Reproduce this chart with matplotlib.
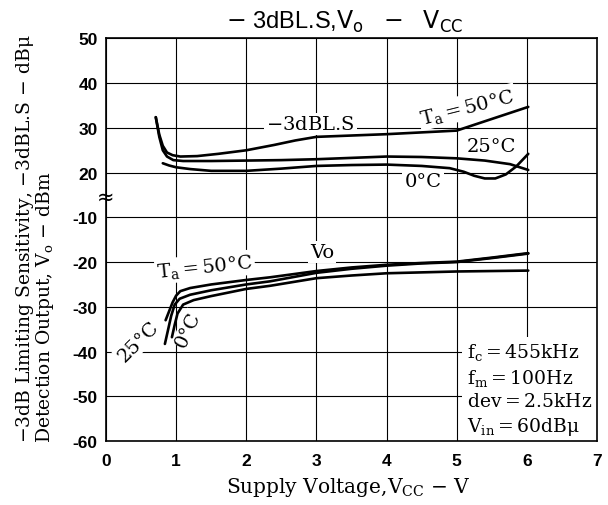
import numpy as np
import matplotlib
matplotlib.use('Agg')
matplotlib.rcParams['mathtext.fontset'] = 'dejavuserif'
import matplotlib.pyplot as plt

# -3dBL.S (dBu) vs Vcc
vcc_ls_50 = [0.71, 0.76, 0.81, 0.87, 0.95, 1.06, 1.3, 1.6, 2.0, 2.4, 2.7, 3.0, 3.5, 4.0, 4.5, 5.0, 5.5, 6.02]
ls_50 = [32.4, 28.5, 26.0, 24.5, 23.9, 23.6, 23.7, 24.2, 25.0, 26.2, 27.2, 28.0, 28.3, 28.6, 29.0, 29.4, 32.0, 34.7]
vcc_ls_25 = [0.71, 0.76, 0.81, 0.87, 0.96, 1.1, 1.5, 2.0, 2.5, 3.0, 3.5, 4.0, 4.5, 5.0, 5.4, 5.76, 6.02]
ls_25 = [32.4, 28.0, 25.0, 23.6, 22.8, 22.6, 22.6, 22.7, 22.8, 23.0, 23.3, 23.6, 23.5, 23.2, 22.7, 21.9, 20.6]
vcc_ls_0 = [0.81, 0.9, 1.0, 1.2, 1.5, 2.0, 2.5, 3.0, 3.5, 4.0, 4.5, 4.9, 5.1, 5.25, 5.4, 5.55, 5.7, 5.85, 6.02]
ls_0 = [22.1, 21.6, 21.2, 20.8, 20.4, 20.4, 20.9, 21.5, 21.7, 21.8, 21.5, 21.0, 20.2, 19.3, 18.7, 18.7, 19.6, 21.4, 24.2]

# Vo (dBm) vs Vcc
vcc_vo_50 = [0.85, 0.9, 0.95, 1.0, 1.06, 1.2, 1.5, 2.0, 2.34, 3.0, 3.5, 4.0, 4.5, 5.0, 5.5, 6.02]
vo_50 = [-33.0, -31.0, -29.0, -27.5, -26.5, -25.8, -25.0, -24.0, -23.4, -22.0, -21.2, -20.6, -20.2, -19.9, -19.0, -18.0]
vcc_vo_25 = [0.84, 0.88, 0.93, 0.98, 1.05, 1.2, 1.5, 2.0, 2.34, 3.0, 3.5, 4.0, 4.5, 5.0, 5.5, 6.02]
vo_25 = [-38.3, -35.5, -32.0, -29.5, -28.2, -27.3, -26.3, -25.0, -24.3, -22.4, -21.5, -20.8, -20.3, -20.0, -19.1, -18.1]
vcc_vo_0 = [0.94, 0.98, 1.02, 1.1, 1.25, 1.5, 2.0, 2.34, 3.0, 3.5, 4.0, 4.5, 5.0, 5.5, 6.02]
vo_0 = [-36.8, -34.0, -31.5, -29.5, -28.5, -27.6, -26.0, -25.3, -23.6, -23.0, -22.5, -22.3, -22.1, -22.0, -21.9]

xticks = [0, 1, 2, 3, 4, 5, 6, 7]
yticks = [50, 40, 30, 20, -10, -20, -30, -40, -50, -60]


# broken y axis: dBu part above, dBm part below, squeezed gap between 12 and -10
def fwd(v):
    v = np.asarray(v, dtype=float)
    return np.where(v >= 12, v, np.where(v <= -10, v + 20, 10 + (v + 10) * 2 / 22))


def inv(p):
    p = np.asarray(p, dtype=float)
    return np.where(p >= 12, p, np.where(p <= 10, p - 20, (p - 10) * 11 - 10))


serif = 'DejaVu Serif'
sans = 'Liberation Sans'

fig = plt.figure(figsize=(6.08, 5.06), dpi=100)
ax = fig.add_axes([0.1743, 0.1265, 0.8076, 0.7955])
ax.set_yscale('function', functions=(fwd, inv))
ax.set_xlim(0, 7)
ax.set_ylim(-60, 50)
ax.set_xticks(xticks)
ax.set_yticks(yticks)
ax.set_yticklabels([str(t) for t in yticks])
ax.minorticks_off()
for lab in ax.get_xticklabels() + ax.get_yticklabels():
    lab.set_fontfamily(sans)
    lab.set_fontweight('bold')
    lab.set_fontsize(12.5)
ax.tick_params(axis='both', length=0)
ax.tick_params(axis='y', pad=6)
ax.tick_params(axis='x', pad=9)
ax.grid(True, color='black', lw=0.8)
for s in ax.spines.values():
    s.set_linewidth(1.2)

lw = 1.9
for x, y in [(vcc_ls_50, ls_50), (vcc_ls_25, ls_25), (vcc_ls_0, ls_0),
             (vcc_vo_50, vo_50), (vcc_vo_25, vo_25), (vcc_vo_0, vo_0)]:
    ax.plot(x, y, color='black', lw=lw, solid_capstyle='round', zorder=3)

fs = 14
wbox = dict(fc='white', ec='none', pad=1.5)
ax.text(2.91, 30.9, '$-$3dBL.S', family=serif, fontsize=fs, ha='center', va='center', bbox=wbox, zorder=2)
ax.text(5.15, 34.7, 'T$_\\mathrm{a}$$=$50°C', family=serif, fontsize=fs, ha='center', va='center',
        rotation=14, bbox=wbox, zorder=2)
ax.text(5.5, 26.0, '25°C', family=serif, fontsize=fs, ha='center', va='center', zorder=2)
ax.text(4.52, 18.1, '0°C', family=serif, fontsize=fs, ha='center', va='center', bbox=wbox, zorder=2)

ax.text(3.08, -17.8, 'Vo', family=serif, fontsize=fs, ha='center', va='center', bbox=wbox, zorder=2)
ax.text(1.41, -21.1, 'T$_\\mathrm{a}$$=$50°C', family=serif, fontsize=fs, ha='center', va='center',
        rotation=6, bbox=wbox, zorder=2)
ax.text(0.46, -37.7, '25°C', family=serif, fontsize=fs, ha='center', va='center',
        rotation=45, bbox=wbox, zorder=2)
ax.text(1.17, -35.0, '0°C', family=serif, fontsize=fs, ha='center', va='center',
        rotation=65, bbox=dict(fc='white', ec='none', pad=0.5), zorder=2)

ax.text(5.15, -48.4,
        'f$_\\mathrm{c}$$=$455kHz\nf$_\\mathrm{m}$$=$100Hz\ndev$=$2.5kHz\nV$_\\mathrm{in}$$=$60dBμ',
        family=serif, fontsize=13.5, ha='left', va='center', linespacing=1.3,
        bbox=dict(fc='white', ec='none', pad=4), zorder=2)

# axis break mark
ax.text(0, 14.5, '≈', family='DejaVu Sans', fontsize=15, ha='center', va='center',
        clip_on=False, zorder=4)

fig.text(0.567, 0.957, '$-$ 3dBL.S,$\\mathsf{V_o}$   $-$   $\\mathsf{V_{CC}}$', family=sans,
         fontsize=17, ha='center', va='center')
fig.text(0.572, 0.0375, 'Supply Voltage,V$_\\mathrm{CC}$ $-$ V', family=serif, fontsize=14.5,
         ha='center', va='center')
fig.text(0.041, 0.1245, '$-$3dB Limiting Sensitivity, $-$3dBL.S $-$ dBμ', family=serif, fontsize=13.5,
         rotation=90, ha='center', va='bottom')
fig.text(0.074, 0.1245, 'Detection Output, V$_\\mathrm{o}$ $-$ dBm', family=serif, fontsize=13.5,
         rotation=90, ha='center', va='bottom')

fig.savefig('out.png', dpi=100)
